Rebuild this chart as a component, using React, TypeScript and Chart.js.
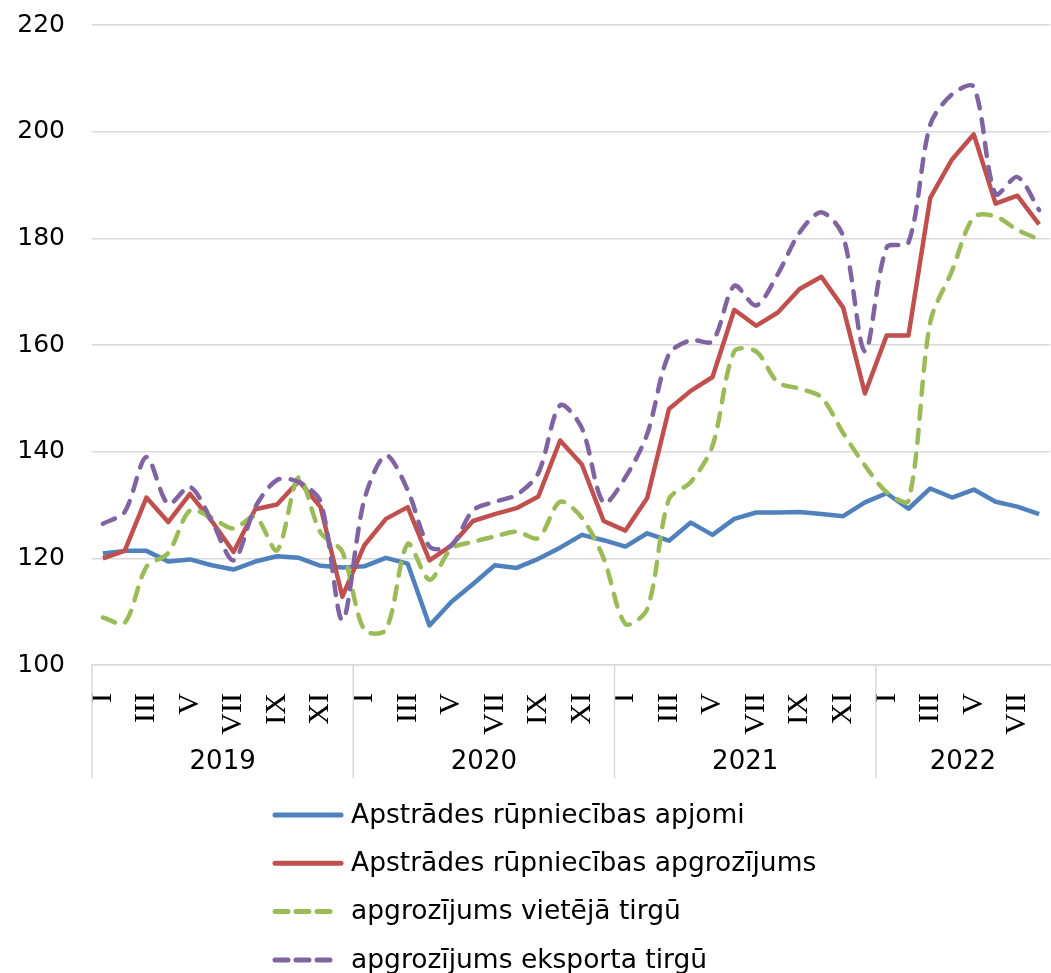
import React, { useEffect, useRef } from "react";
import { Chart, registerables } from "chart.js";

Chart.register(...registerables);

const years = ["2019", "2020", "2021", "2022"];
const monthsPerYear = [12, 12, 12, 8];
const monthNames = ["I", "II", "III", "IV", "V", "VI", "VII", "VIII", "IX", "X", "XI", "XII"];

const categories: string[] = [];
years.forEach((y, gi) => {
  for (let m = 0; m < monthsPerYear[gi]; m++) categories.push(monthNames[m]);
});

const seriesNames = [
  "Apstrādes rūpniecības apjomi",
  "Apstrādes rūpniecības apgrozījums",
  "apgrozījums vietējā tirgū",
  "apgrozījums eksporta tirgū",
];

const volume = [
  120.9, 121.4, 121.4, 119.4, 119.8, 118.7, 117.9, 119.4, 120.4, 120.1, 118.6, 118.3,
  118.5, 120.1, 119.0, 107.4, 111.8, 115.2, 118.7, 118.2, 119.9, 122.0, 124.4, 123.4,
  122.2, 124.7, 123.3, 126.7, 124.4, 127.4, 128.6, 128.6, 128.7, 128.3, 127.9, 130.5,
  132.2, 129.3, 133.1, 131.4, 132.9, 130.6, 129.7, 128.3,
];

const turnover = [
  120.0, 121.4, 131.4, 126.8, 132.1, 127.0, 121.2, 129.2, 130.1, 134.5, 129.6, 112.8,
  122.4, 127.4, 129.6, 119.6, 122.4, 127.0, 128.3, 129.4, 131.6, 142.1, 137.6, 127.0,
  125.2, 131.3, 148.0, 151.4, 154.0, 166.6, 163.6, 166.1, 170.5, 172.8, 167.0, 150.9,
  161.8, 161.8, 187.6, 194.8, 199.5, 186.5, 188.0, 182.6,
];

const domestic = [
  108.9, 107.9, 118.4, 121.0, 129.0, 127.6, 125.6, 127.8, 121.5, 135.2, 124.8, 121.2,
  106.6, 106.6, 122.7, 116.0, 121.8, 123.1, 124.1, 125.0, 123.8, 130.6, 127.6, 120.0,
  107.7, 110.5, 131.1, 134.3, 141.1, 158.8, 158.8, 153.0, 151.8, 150.2, 143.5, 137.4,
  132.4, 130.8, 164.3, 173.9, 184.0, 184.1, 181.6, 179.8,
];

const exportMarket = [
  126.5, 128.7, 139.0, 130.2, 133.4, 127.0, 119.6, 129.6, 134.7, 134.3, 130.6, 108.4,
  130.9, 139.3, 132.8, 122.2, 122.4, 129.0, 130.6, 131.9, 136.0, 148.7, 144.4, 130.4,
  135.2, 143.3, 158.3, 160.9, 160.7, 171.1, 167.4, 173.3, 181.1, 184.9, 180.4, 158.8,
  178.3, 179.2, 201.3, 207.0, 208.4, 188.3, 191.5, 185.3,
];

const yMin = 100;
const yMax = 220;
const yStep = 20;

const colors = ["#4F81BD", "#C0504D", "#9BBB59", "#8064A2"];
const GRID = "#d9d9d9";
const SANS = "'DejaVu Sans', Verdana, sans-serif";
const SERIF = "'Liberation Serif', 'Times New Roman', serif";

const groupsAndLegend = {
  id: "groupsAndLegend",
  afterDraw(chart: any) {
    const ctx = chart.ctx as CanvasRenderingContext2D;
    const xs = chart.scales.x;
    const area = chart.chartArea;
    const half = (xs.getPixelForValue(1) - xs.getPixelForValue(0)) / 2;
    ctx.save();
    ctx.strokeStyle = GRID;
    ctx.lineWidth = 1.5;
    ctx.fillStyle = "#000";
    ctx.font = `26px ${SANS}`;
    ctx.textAlign = "center";
    ctx.textBaseline = "middle";
    let start = 0;
    years.forEach((yr, gi) => {
      const count = monthsPerYear[gi];
      const left = xs.getPixelForValue(start) - half;
      const right = xs.getPixelForValue(start + count - 1) + half;
      ctx.beginPath();
      ctx.moveTo(left, area.bottom);
      ctx.lineTo(left, area.bottom + 113);
      ctx.stroke();
      ctx.fillText(yr, (left + right) / 2, area.bottom + 97);
      start += count;
    });
    const lx0 = 275;
    const lx1 = 341;
    const tx = 351;
    const rowY0 = 815;
    const rowGap = 48.3;
    ctx.textAlign = "left";
    ctx.font = `26.5px ${SANS}`;
    chart.data.datasets.forEach((ds: any, i: number) => {
      const y = rowY0 + i * rowGap;
      ctx.strokeStyle = ds.borderColor;
      ctx.lineWidth = 5;
      ctx.lineCap = "round";
      ctx.setLineDash(ds.borderDash && ds.borderDash.length ? [13, 8] : []);
      ctx.beginPath();
      ctx.moveTo(lx0, y);
      ctx.lineTo(ds.borderDash && ds.borderDash.length ? lx0 + 55 : lx1, y);
      ctx.stroke();
      ctx.setLineDash([]);
      ctx.fillStyle = "#000";
      ctx.fillText(ds.label, tx, y + 1);
    });
    ctx.restore();
  },
};

export default function App() {
  const canvasRef = useRef<HTMLCanvasElement | null>(null);

  useEffect(() => {
    const canvas = canvasRef.current;
    if (!canvas) return;
    const seriesData = [volume, turnover, domestic, exportMarket];
    const chart = new Chart(canvas, {
      type: "line",
      data: {
        labels: categories,
        datasets: seriesData.map((d, i) => ({
          label: seriesNames[i],
          data: d,
          borderColor: colors[i],
          backgroundColor: colors[i],
          borderWidth: 4.5,
          borderDash: i >= 2 ? [13, 11] : [],
          borderCapStyle: i >= 2 ? "round" : "butt",
          borderJoinStyle: "round",
          pointRadius: 0,
          pointHoverRadius: 0,
          tension: i >= 2 ? 0.3 : 0,
          fill: false,
          order: 4 - i,
        })) as any,
      },
      options: {
        responsive: false,
        animation: false,
        events: [],
        layout: { padding: { top: 25, right: 1, left: 0, bottom: 0 } },
        plugins: {
          legend: { display: false },
          tooltip: { enabled: false },
          title: { display: false },
        },
        scales: {
          x: {
            type: "category",
            offset: true,
            grid: { display: false },
            border: { display: true, color: GRID, width: 1.5 },
            ticks: {
              autoSkip: false,
              maxRotation: 90,
              minRotation: 90,
              padding: 20,
              color: "#000",
              font: { family: SERIF, size: 30 },
              callback: (_v: any, idx: number) => (idx % 2 === 0 ? categories[idx] : ""),
            },
            afterFit: (s: any) => {
              s.height = 308;
              s.paddingLeft = 0;
              s.paddingRight = 0;
            },
          },
          y: {
            min: yMin,
            max: yMax,
            grid: { color: GRID, lineWidth: 1.5, drawTicks: false },
            border: { display: false },
            ticks: {
              stepSize: yStep,
              padding: 27,
              color: "#000",
              font: { family: SANS, size: 25 },
            },
            afterFit: (s: any) => {
              s.width = 92;
              s.paddingTop = 0;
              s.paddingBottom = 0;
            },
          },
        },
      },
      plugins: [groupsAndLegend],
    });
    return () => chart.destroy();
  }, []);

  return (
    <div style={{ position: "absolute", left: 0, top: 0, width: 1051, height: 973, background: "#fff" }}>
      <canvas ref={canvasRef} width={1051} height={973} style={{ display: "block" }} />
    </div>
  );
}
